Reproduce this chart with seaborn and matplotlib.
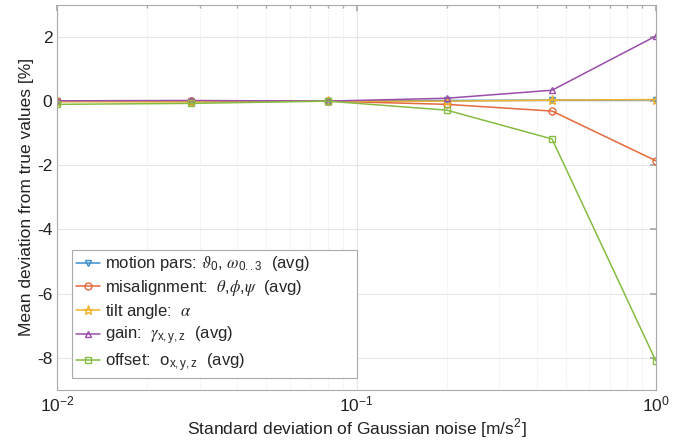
import matplotlib
matplotlib.use('Agg')
import numpy as np
import pandas as pd
import matplotlib.pyplot as plt
import seaborn as sns

# noise levels (std of Gaussian noise, m/s^2)
noise_std = [0.01, 0.028, 0.08, 0.2, 0.45, 1.0]

# mean deviation from true values [%]
motion_pars  = [0.0, 0.0, 0.0, 0.02, 0.03, 0.04]
misalignment = [0.0, -0.01, 0.0, -0.1, -0.31, -1.86]
tilt_angle   = [-0.02, -0.02, 0.0, 0.0, 0.03, 0.05]
gain         = [0.01, 0.02, 0.0, 0.09, 0.34, 2.03]
offset       = [-0.1, -0.07, 0.0, -0.28, -1.18, -8.1]

labels = [
    r"motion pars: $\vartheta_{\mathrm{0}}$, $\omega_{\mathrm{0..3}}$  (avg)",
    r"misalignment:  $\theta$,$\phi$,$\psi$  (avg)",
    r"tilt angle:  $\alpha$",
    r"gain:  $\gamma_{\mathrm{x,y,z}}$  (avg)",
    r"offset:  o$_{\mathrm{x,y,z}}$  (avg)",
]
series = [motion_pars, misalignment, tilt_angle, gain, offset]
colors = ["#3C8FD0", "#E4693D", "#EEB22C", "#9A4DAA", "#86BC42"]
markers = ["v", "o", "*", "^", "s"]

sns.set_theme(style="whitegrid")
plt.rcParams.update({
    'font.family': ['Liberation Sans', 'DejaVu Sans'],
    'mathtext.fontset': 'custom',
    'mathtext.rm': 'Liberation Sans',
    'mathtext.sf': 'Liberation Sans',
    'mathtext.it': 'STIXGeneral:italic',
    'axes.unicode_minus': False,
})

fig = plt.figure(figsize=(6.97, 4.47), dpi=100)
ax = fig.add_axes([0.082, 0.128, 0.859, 0.861])

for vals, lab, col, mk in zip(series, labels, colors, markers):
    sns.lineplot(x=noise_std, y=vals, ax=ax, color=col, marker=mk, label=lab,
                 markersize=5 if mk != "*" else 6.5, markerfacecolor='none',
                 markeredgecolor=col, markeredgewidth=1.0, linewidth=1.1)

ax.set_xscale('log')
ax.set_xlim(1e-2, 1e0)
ax.set_ylim(-9, 3)
ax.set_yticks([-8, -6, -4, -2, 0, 2])
ax.set_facecolor('white')
ax.grid(True, which='major', color='#e6e6e6', linewidth=0.8, linestyle='-')
ax.grid(True, which='minor', axis='x', color='#e6e6e6', linewidth=0.7, linestyle=':')
for s in ax.spines.values():
    s.set_color('#aaaaaa')
    s.set_linewidth(0.8)
ax.tick_params(which='both', direction='in', top=True, right=True, colors='#aaaaaa',
               labelcolor='#222222', labelsize=12.5)
ax.tick_params(which='major', length=4)
ax.tick_params(which='minor', length=2.5)

ax.set_xlabel("Standard deviation of Gaussian noise [m/s$^2$]", fontsize=12.5, color='#222222', labelpad=2)
ax.set_ylabel("Mean deviation from true values [%]", fontsize=12.5, color='#222222', labelpad=2)

# legend box stretched wider than its text, like the original
leg = ax.legend(loc='lower left', bbox_to_anchor=(0.025, 0.031, 0.476, 0.3), mode='expand',
                borderaxespad=0, fontsize=12, frameon=True,
                fancybox=False, edgecolor='#aaaaaa', framealpha=1, handlelength=1.4,
                handletextpad=0.35, labelspacing=0.25, borderpad=0.25)
leg.get_frame().set_linewidth(0.8)

plt.savefig("out.png", dpi=100)
plt.close()
